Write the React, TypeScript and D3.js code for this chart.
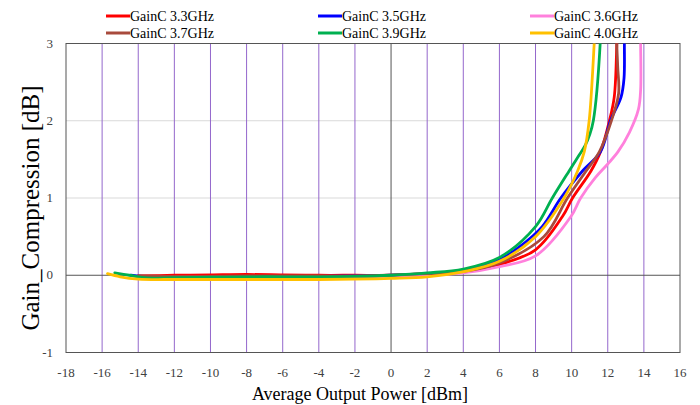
import React from "react";
import * as d3 from "d3";

const W = 700, H = 405;
const M = { left: 66, right: 680, top: 43.5, bottom: 352.5 };

const xTicks = [-18,-16,-14,-12,-10,-8,-6,-4,-2,0,2,4,6,8,10,12,14,16];
const yTicks = [-1,0,1,2,3];

const seriesNames = ["GainC 3.3GHz","GainC 3.5GHz","GainC 3.6GHz","GainC 3.7GHz","GainC 3.9GHz","GainC 4.0GHz"];
const seriesColors = ["#ff0000","#0000ff","#ff80dc","#a84a3c","#00b050","#ffc000"];

const x33 = [-14,-12,-10,-8,-6,-4,-2,0,2,4,6,8,9.49,10.05,11.07,11.6,12.09,12.36,12.5,12.52];
const y33 = [-0.01,0,0.005,0.01,0.005,0,0,0,0.02,0.05,0.14,0.33,0.76,1.0,1.35,1.6,2.0,2.31,3.0,3.2];

const x35 = [-14.4,-14,-12,-10,-8,-6,-4,-2,0,2,4,6,7.07,8.37,9.4,10.6,11.6,12.15,12.74,12.9,12.92,12.92];
const y35 = [0.0,-0.01,-0.02,-0.02,-0.015,-0.015,-0.015,-0.01,0,0.02,0.06,0.2,0.36,0.63,1.0,1.35,1.6,2.0,2.31,2.55,3.0,3.2];

const x36 = [-14,-12,-10,-8,-6,-4,-2,0,2,4,6,8,9.96,10.5,11.3,12.0,12.57,13.2,13.7,13.82,13.82,13.82];
const y36 = [-0.03,-0.035,-0.035,-0.035,-0.035,-0.035,-0.03,-0.02,0.0,0.03,0.11,0.25,0.76,1.0,1.26,1.44,1.6,1.85,2.15,2.4,3.0,3.2];

const x37 = [-14,-12,-10,-8,-6,-4,-2,0,2,4,6,8.46,9.77,10.8,11.54,12.2,12.6,12.55,12.5,12.5];
const y37 = [-0.01,-0.015,-0.015,-0.01,-0.01,-0.01,-0.01,0,0.02,0.05,0.16,0.5,1.0,1.35,1.6,2.0,2.35,2.7,3.0,3.2];

const x39 = [-15.3,-14.5,-13.5,-12,-10,-8,-6,-4,-2,0,2,4,6,8.0,8.93,9.86,10.4,10.75,11.0,11.2,11.58,11.6];
const y39 = [0.03,0.0,-0.035,-0.03,-0.025,-0.02,-0.02,-0.02,-0.015,0,0.03,0.08,0.23,0.63,1.0,1.35,1.55,1.68,1.82,2.0,3.0,3.2];

const x40 = [-15.7,-15,-14,-12,-10,-8,-6,-4,-2,0,2,4.1,6,8.0,9.58,10.33,10.7,10.97,11.25,11.3];
const y40 = [0.02,-0.02,-0.05,-0.055,-0.055,-0.055,-0.055,-0.055,-0.05,-0.04,-0.02,0.05,0.18,0.5,1.0,1.35,1.6,2.0,3.0,3.2];

const seriesX = [x33,x35,x36,x37,x39,x40];
const seriesY = [y33,y35,y36,y37,y39,y40];

export default function App() {
  const xs = d3.scaleLinear().domain([-18, 16]).range([M.left, M.right]);
  const ys = d3.scaleLinear().domain([-1, 3]).range([M.bottom, M.top]);
  const line = d3.line<[number, number]>()
    .x(d => xs(d[0])).y(d => ys(d[1]))
    .curve(d3.curveCatmullRom.alpha(0.5));
  const font = "'Liberation Serif', 'Times New Roman', serif";

  const legendCols = [106, 318, 530];
  const legendRows = [16, 33];

  return (
    <svg width={W} height={H} style={{ position: "absolute", left: 0, top: 0, background: "#fff" }} fontFamily={font}>
      <defs>
        <clipPath id="plot">
          <rect x={M.left} y={M.top} width={M.right - M.left} height={M.bottom - M.top} />
        </clipPath>
      </defs>
      {yTicks.filter(t => t === 1 || t === 2).map(t => (
        <line key={"hg" + t} x1={M.left} x2={M.right} y1={ys(t)} y2={ys(t)} stroke="#d9d9d9" strokeWidth={1} />
      ))}
      {xTicks.filter(t => t !== -18 && t !== 16 && t !== 0).map(t => (
        <line key={"vg" + t} x1={xs(t)} x2={xs(t)} y1={M.top} y2={M.bottom} stroke="#9467cc" strokeWidth={1} />
      ))}
      <line x1={xs(0)} x2={xs(0)} y1={M.top} y2={M.bottom} stroke="#555" strokeWidth={1} />
      <line x1={M.left} x2={M.right} y1={ys(0)} y2={ys(0)} stroke="#555" strokeWidth={1} />
      <rect x={M.left} y={M.top} width={M.right - M.left} height={M.bottom - M.top} fill="none" stroke="#555" strokeWidth={1} />
      <g clipPath="url(#plot)">
        {seriesX.map((sx, i) => (
          <path key={"s" + i}
            d={line(sx.map((v, j) => [v, seriesY[i][j]] as [number, number])) || ""}
            fill="none" stroke={seriesColors[i]} strokeWidth={2.8} strokeLinejoin="round" strokeLinecap="round" />
        ))}
      </g>
      {yTicks.map(t => (
        <text key={"yt" + t} x={53} y={ys(t) + 4} textAnchor="end" fontSize={13} fill="#404040">{t}</text>
      ))}
      {xTicks.map(t => (
        <text key={"xt" + t} x={xs(t)} y={377} textAnchor="middle" fontSize={13} fill="#404040">{t}</text>
      ))}
      <text x={360} y={400} textAnchor="middle" fontSize={18} fill="#000">Average Output Power [dBm]</text>
      <text transform={`translate(39,208) rotate(-90)`} textAnchor="middle" fontSize={25} fill="#000">Gain_Compression [dB]</text>
      {seriesNames.map((n, i) => {
        const cx = legendCols[i % 3];
        const cy = legendRows[Math.floor(i / 3)];
        return (
          <g key={"lg" + i}>
            <line x1={cx} x2={cx + 24} y1={cy} y2={cy} stroke={seriesColors[i]} strokeWidth={3} />
            <text x={cx + 24} y={cy + 5} fontSize={14} fill="#000">{n}</text>
          </g>
        );
      })}
    </svg>
  );
}
